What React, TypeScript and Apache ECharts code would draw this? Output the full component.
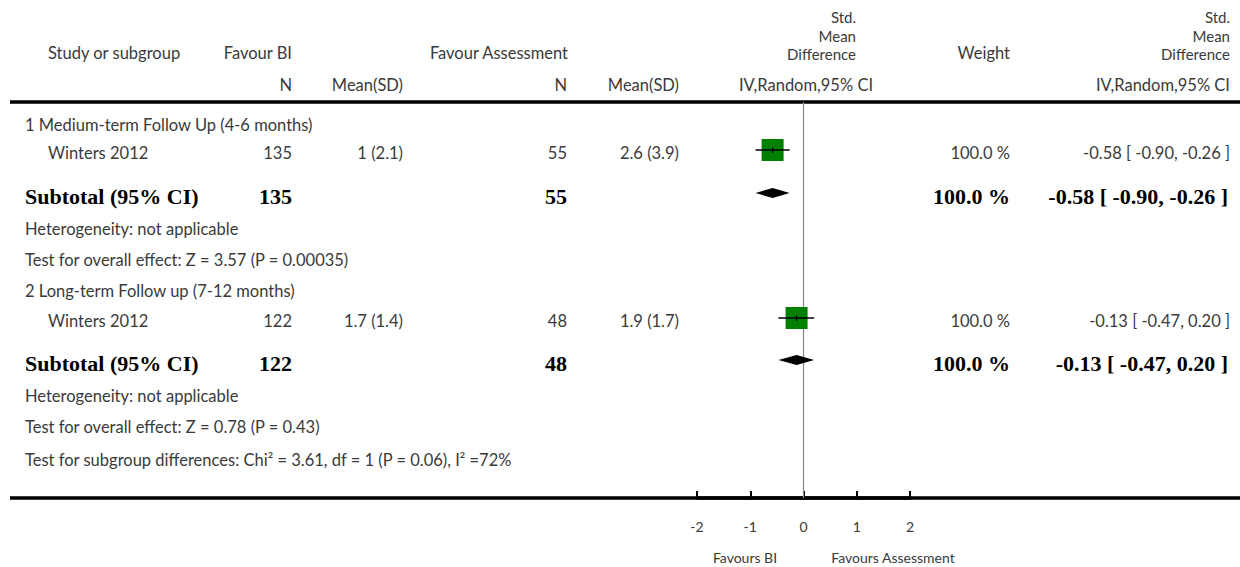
import React, { useEffect, useRef } from "react";
import * as echarts from "echarts";

// ---------- data ----------
const subgroupTitles = ["1 Medium-term Follow Up (4-6 months)", "2 Long-term Follow up (7-12 months)"];
const studyNames = ["Winters 2012", "Winters 2012"];
const biN = [135, 122];
const biMeanSD = ["1 (2.1)", "1.7 (1.4)"];
const assessN = [55, 48];
const assessMeanSD = ["2.6 (3.9)", "1.9 (1.7)"];
const weights = [100.0, 100.0];
const smd = [-0.58, -0.13];
const ciLower = [-0.9, -0.47];
const ciUpper = [-0.26, 0.2];
const heterogeneity = ["Heterogeneity: not applicable", "Heterogeneity: not applicable"];
const overallEffect = ["Test for overall effect: Z = 3.57 (P = 0.00035)", "Test for overall effect: Z = 0.78 (P = 0.43)"];
const subgroupTest = "Test for subgroup differences: Chi\u00b2 = 3.61, df = 1 (P = 0.06), I\u00b2 =72%";
const axisTicks = [-2, -1, 0, 1, 2];
const favourLabels = ["Favours BI", "Favours Assessment"];
const smdHeaderLines = ["Std.", "Mean", "Difference"];

// ---------- layout (pixel rows) ----------
const W = 1240;
const H = 567;
const headerLineY = [17, 35.5, 54];
const groupRowY = [[125, 153, 196, 229, 260], [291, 321, 363, 396, 427]];
const subgroupTestY = 460;
const topRuleY = 102;
const axisY = 498;

const SANS = "Lato, 'Open Sans', sans-serif";
const SERIF = "'Liberation Serif', 'DejaVu Serif', serif";
const GREY = "#3a3a3a";
const FS = 16.5;

const fmt = (v: number) => v.toFixed(2);
const ciText = (i: number) => `${fmt(smd[i])} [ ${fmt(ciLower[i])}, ${fmt(ciUpper[i])} ]`;

function txt(text: string, x: number, y: number, align: string, opts: any = {}) {
  return {
    type: "text",
    x,
    y,
    silent: true,
    style: {
      text,
      align,
      verticalAlign: "middle",
      fontSize: opts.fontSize ?? FS,
      fontFamily: opts.fontFamily ?? SANS,
      fontWeight: opts.fontWeight ?? "normal",
      fill: opts.fill ?? GREY,
    },
  };
}

function boldTxt(text: string, x: number, y: number, align: string) {
  return txt(text, x, y, align, { fontSize: 22, fontFamily: SERIF, fontWeight: "bold", fill: "#000" });
}

export default function App() {
  const ref = useRef<HTMLDivElement>(null);

  useEffect(() => {
    if (!ref.current) return;
    const chart = echarts.init(ref.current, null, { renderer: "svg" });

    const graphics: any[] = [];
    // header
    graphics.push(txt("Study or subgroup", 48, 53, "left"));
    graphics.push(txt("Favour BI", 292, 53, "right"));
    graphics.push(txt("Favour Assessment", 568, 53, "right"));
    smdHeaderLines.forEach((line, k) => {
      graphics.push(txt(line, 856, headerLineY[k], "right", { fontSize: 15 }));
      graphics.push(txt(line, 1230, headerLineY[k], "right", { fontSize: 15 }));
    });
    graphics.push(txt("Weight", 1010, 53, "right"));
    graphics.push(txt("N", 292, 85, "right"));
    graphics.push(txt("Mean(SD)", 403, 85, "right"));
    graphics.push(txt("N", 567, 85, "right"));
    graphics.push(txt("Mean(SD)", 679, 85, "right"));
    graphics.push(txt("IV,Random,95% CI", 806, 85, "center"));
    graphics.push(txt("IV,Random,95% CI", 1230, 85, "right"));

    // rules
    graphics.push({
      type: "line",
      silent: true,
      shape: { x1: 10, y1: topRuleY, x2: W, y2: topRuleY },
      style: { stroke: "#000", lineWidth: 3.5 },
    });
    graphics.push({
      type: "line",
      silent: true,
      shape: { x1: 10, y1: axisY, x2: W, y2: axisY },
      style: { stroke: "#000", lineWidth: 3.5 },
    });

    // body rows
    subgroupTitles.forEach((title, i) => {
      const [yT, yS, ySub, yH, yO] = groupRowY[i];
      graphics.push(txt(title, 25, yT, "left"));
      graphics.push(txt(studyNames[i], 48, yS, "left"));
      graphics.push(txt(String(biN[i]), 292, yS, "right"));
      graphics.push(txt(biMeanSD[i], 403, yS, "right"));
      graphics.push(txt(String(assessN[i]), 567, yS, "right"));
      graphics.push(txt(assessMeanSD[i], 679, yS, "right"));
      graphics.push(txt(`${weights[i].toFixed(1)} %`, 1010, yS, "right"));
      graphics.push(txt(ciText(i), 1230, yS, "right"));
      graphics.push(boldTxt("Subtotal (95% CI)", 25, ySub, "left"));
      graphics.push(boldTxt(String(biN[i]), 292, ySub, "right"));
      graphics.push(boldTxt(String(assessN[i]), 567, ySub, "right"));
      graphics.push(boldTxt(`${weights[i].toFixed(1)} %`, 1010, ySub, "right"));
      graphics.push(boldTxt(ciText(i), 1228, ySub, "right"));
      graphics.push(txt(heterogeneity[i], 25, yH, "left"));
      graphics.push(txt(overallEffect[i], 25, yO, "left"));
    });
    graphics.push(txt(subgroupTest, 25, subgroupTestY, "left"));

    // favour labels
    graphics.push(txt(favourLabels[0], 745, 557, "center", { fontSize: 14 }));
    graphics.push(txt(favourLabels[1], 893, 557, "center", { fontSize: 14 }));

    const studyData = smd.map((v, i) => [v, groupRowY[i][1] - 3, ciLower[i], ciUpper[i], weights[i]]);
    const subtotalData = smd.map((v, i) => [v, groupRowY[i][2] - 3, ciLower[i], ciUpper[i]]);

    chart.setOption({
      animation: false,
      grid: { left: 697, right: W - 910, top: 0, height: axisY, containLabel: false },
      xAxis: {
        type: "value",
        position: "bottom",
        min: -2,
        max: 2,
        interval: 1,
        axisLine: { show: true, onZero: false, lineStyle: { color: "#000", width: 3.5 } },
        axisTick: { show: true, inside: true, length: 7, lineStyle: { color: "#000", width: 2 } },
        axisLabel: {
          margin: 21,
          fontSize: 14,
          fontFamily: SANS,
          color: GREY,
          customValues: axisTicks,
          formatter: (v: number) => String(v),
        },
        splitLine: { show: false },
      },
      yAxis: { type: "value", min: 0, max: axisY, inverse: true, show: false },
      graphic: graphics,
      series: [
        {
          type: "line",
          data: [[0, topRuleY], [0, axisY]],
          symbol: "none",
          silent: true,
          lineStyle: { color: "#888", width: 1.2 },
          z: 1,
        },
        {
          type: "custom",
          data: studyData,
          silent: true,
          z: 3,
          renderItem: (params: any, api: any) => {
            const c = api.coord([api.value(0), api.value(1)]);
            const l = api.coord([api.value(2), api.value(1)]);
            const r = api.coord([api.value(3), api.value(1)]);
            const size = 22 * Math.sqrt(api.value(4) / 100);
            return {
              type: "group",
              children: [
                {
                  type: "rect",
                  shape: { x: c[0] - size / 2, y: c[1] - size / 2, width: size, height: size },
                  style: { fill: "#008000" },
                },
                {
                  type: "line",
                  shape: { x1: l[0], y1: c[1], x2: r[0], y2: c[1] },
                  style: { stroke: "#000", lineWidth: 1.3 },
                },
                {
                  type: "line",
                  shape: { x1: c[0], y1: c[1] - 3, x2: c[0], y2: c[1] + 3 },
                  style: { stroke: "#000", lineWidth: 1.3 },
                },
              ],
            };
          },
        },
        {
          type: "custom",
          data: subtotalData,
          silent: true,
          z: 3,
          renderItem: (params: any, api: any) => {
            const c = api.coord([api.value(0), api.value(1)]);
            const l = api.coord([api.value(2), api.value(1)]);
            const r = api.coord([api.value(3), api.value(1)]);
            return {
              type: "polygon",
              shape: {
                points: [
                  [l[0], c[1]],
                  [c[0], c[1] - 5],
                  [r[0], c[1]],
                  [c[0], c[1] + 5],
                ],
              },
              style: { fill: "#000" },
            };
          },
        },
      ],
    });

    return () => chart.dispose();
  }, []);

  return (
    <div
      ref={ref}
      style={{ position: "fixed", left: 0, top: 0, width: W, height: H, background: "#fff" }}
    />
  );
}
